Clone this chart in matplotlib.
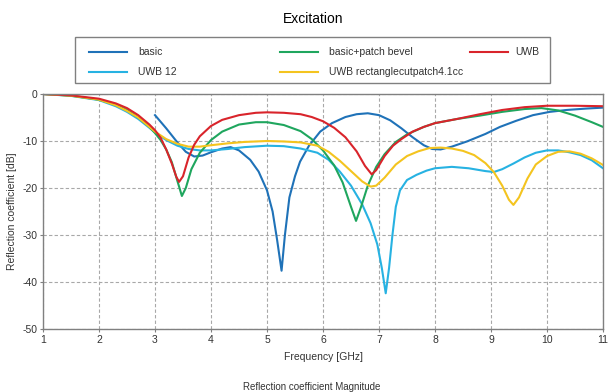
import matplotlib
matplotlib.use("Agg")
import matplotlib.pyplot as plt
from matplotlib.lines import Line2D
from matplotlib.patches import Rectangle

plt.rcParams['font.family'] = ['Liberation Sans', 'DejaVu Sans']
plt.rcParams['axes.unicode_minus'] = False

# --- data (frequency in GHz, reflection coefficient in dB) ---
basic_f = [3.0, 3.2, 3.4, 3.55, 3.7, 3.85, 4.0, 4.2, 4.35, 4.5, 4.7, 4.85, 5.0, 5.1,
           5.18, 5.26, 5.32, 5.4, 5.5, 5.59, 5.75, 5.95, 6.16, 6.4, 6.6, 6.8, 7.0,
           7.2, 7.4, 7.6, 7.8, 7.95, 8.1, 8.3, 8.57, 8.9, 9.16, 9.45, 9.75, 10.05,
           10.35, 10.7, 11.0]
basic_db = [-4.5, -7.3, -10.3, -12.3, -13.3, -13.1, -12.4, -11.6, -11.3, -12.0, -14.0,
            -16.5, -20.5, -25.0, -31.0, -37.6, -30.0, -22.0, -17.5, -14.4, -11.0, -8.0,
            -6.2, -4.9, -4.3, -4.1, -4.5, -5.6, -7.3, -9.2, -10.9, -11.7, -11.8, -11.2,
            -10.1, -8.5, -7.0, -5.7, -4.5, -3.8, -3.4, -3.1, -2.9]

uwb12_f = [1.0, 1.5, 2.0, 2.3, 2.5, 2.7, 2.9, 3.0, 3.2, 3.4, 3.6, 3.8, 4.0, 4.3, 4.6,
           5.0, 5.3, 5.6, 5.9, 6.1, 6.3, 6.5, 6.7, 6.85, 6.97, 7.05, 7.12, 7.18, 7.24,
           7.3, 7.375, 7.5, 7.67, 7.85, 8.0, 8.3, 8.6, 8.9, 9.05, 9.2, 9.4, 9.6, 9.8,
           10.0, 10.2, 10.4, 10.6, 10.8, 11.0]
uwb12_db = [0.0, -0.4, -1.3, -2.6, -3.8, -5.3, -7.2, -8.2, -9.8, -11.0, -11.7, -12.0,
            -12.0, -11.7, -11.3, -11.0, -11.1, -11.6, -12.5, -14.0, -16.5, -19.5,
            -23.5, -27.5, -32.0, -37.0, -42.4, -37.0, -30.0, -24.0, -20.5, -18.3,
            -17.2, -16.3, -15.8, -15.5, -15.8, -16.4, -16.6, -16.0, -14.8, -13.5,
            -12.5, -12.0, -12.0, -12.4, -13.0, -14.1, -15.8]

bevel_f = [1.0, 1.5, 2.0, 2.3, 2.5, 2.7, 2.9, 3.0, 3.1, 3.2, 3.3, 3.4, 3.48, 3.55,
           3.65, 3.8, 4.0, 4.2, 4.5, 4.8, 5.0, 5.3, 5.6, 5.8, 6.0, 6.2, 6.35, 6.5,
           6.59, 6.68, 6.8, 6.95, 7.1, 7.3, 7.5, 7.8, 8.0, 8.4, 8.8, 9.2, 9.6, 9.9,
           10.2, 10.5, 10.8, 11.0]
bevel_db = [0.0, -0.35, -1.2, -2.3, -3.4, -5.0, -7.0, -8.3, -9.8, -11.8, -14.5, -18.5,
            -21.7, -20.0, -16.0, -12.5, -9.8, -8.0, -6.5, -6.0, -6.0, -6.6, -7.9, -9.6,
            -12.0, -15.2, -18.8, -24.0, -27.0, -24.0, -19.5, -15.5, -12.8, -10.2, -8.6,
            -7.0, -6.2, -5.3, -4.6, -3.8, -3.2, -3.0, -3.5, -4.6, -6.0, -7.0]

rect_f = [1.0, 1.5, 2.0, 2.3, 2.5, 2.7, 2.9, 3.0, 3.2, 3.4, 3.6, 3.8, 4.0, 4.3, 4.6,
          5.0, 5.3, 5.6, 5.9, 6.1, 6.3, 6.5, 6.7, 6.85, 6.95, 7.1, 7.3, 7.5, 7.7, 7.9,
          8.1, 8.3, 8.5, 8.7, 8.9, 9.05, 9.2, 9.32, 9.4, 9.5, 9.65, 9.8, 10.0, 10.2,
          10.4, 10.6, 10.8, 11.0]
rect_db = [0.0, -0.35, -1.2, -2.4, -3.6, -5.0, -7.0, -8.0, -9.6, -10.6, -11.2, -11.2,
           -10.9, -10.5, -10.2, -10.0, -10.1, -10.3, -11.0, -12.3, -14.2, -16.4, -18.6,
           -19.7, -19.5, -17.8, -15.0, -13.2, -12.2, -11.5, -11.4, -11.6, -12.1, -13.0,
           -14.7, -16.6, -19.5, -22.5, -23.6, -22.0, -18.0, -15.0, -13.2, -12.3, -12.2,
           -12.7, -13.7, -15.1]

uwb_f = [1.0, 1.5, 2.0, 2.3, 2.5, 2.7, 2.9, 3.0, 3.1, 3.2, 3.3, 3.38, 3.43, 3.5, 3.6,
         3.7, 3.8, 4.0, 4.2, 4.5, 4.8, 5.0, 5.3, 5.6, 5.8, 6.0, 6.2, 6.4, 6.6, 6.75,
         6.87, 6.95, 7.1, 7.25, 7.4, 7.6, 7.8, 8.0, 8.4, 8.8, 9.2, 9.6, 10.0, 10.5, 11.0]
uwb_db = [0.0, -0.3, -1.0, -2.0, -3.0, -4.5, -6.5, -7.7, -9.3, -11.8, -14.8, -17.6,
          -18.7, -17.5, -13.5, -10.8, -9.0, -6.8, -5.5, -4.5, -4.0, -3.9, -4.0, -4.3,
          -4.9, -5.8, -7.2, -9.2, -12.2, -15.3, -17.1, -16.2, -13.2, -11.0, -9.6, -8.0,
          -7.0, -6.2, -5.3, -4.3, -3.4, -2.8, -2.5, -2.5, -2.6]

series = [
    ("basic", basic_f, basic_db, "#1f72b8"),
    ("UWB 12", uwb12_f, uwb12_db, "#27b2e2"),
    ("basic+patch bevel", bevel_f, bevel_db, "#1fa65e"),
    ("UWB rectanglecutpatch4.1cc", rect_f, rect_db, "#f4c41f"),
    ("UWB", uwb_f, uwb_db, "#d9242b"),
]

W, H = 608, 392
fig = plt.figure(figsize=(W / 100, H / 100), dpi=100)
ax = fig.add_axes([43 / W, 1 - 329 / H, 560 / W, 235 / H])

for name, f, db, c in series:
    ax.plot(f, db, color=c, lw=1.5, label=name)

ax.set_xlim(1, 11)
ax.set_ylim(-50, 0)
ax.set_xticks(range(1, 12))
ax.set_yticks(range(-50, 1, 10))
ax.grid(True, color="#a8a8a8", linestyle=(0, (3, 2)), lw=0.8)
for s in ax.spines.values():
    s.set_color("#808080")
    s.set_linewidth(1.0)
ax.tick_params(labelsize=7.5, length=2, color="#808080", pad=2, labelcolor="#333333")
ax.set_xlabel("Frequency [GHz]", fontsize=7.5, color="#333333", labelpad=5)
ax.set_ylabel("Reflection coefficient [dB]", fontsize=7.5, color="#333333", labelpad=4)

fig.text(313 / W, 1 - 19 / H, "Excitation", ha="center", va="center", fontsize=10)
fig.text(312 / W, 1 - 387 / H, "Reflection coefficient Magnitude",
         ha="center", va="center", fontsize=7, color="#333333")

# hand-built legend box (fixed grid like the original)
fig.patches.append(Rectangle((75 / W, 1 - 83 / H), 475 / W, 46 / H,
                             transform=fig.transFigure, fill=False,
                             edgecolor="#808080", lw=1.0))
slots = [(89, 52), (89, 72), (280, 52), (280, 72), (470, 52)]
for (name, f, db, c), (x0, y0) in zip(series, slots):
    fig.lines.append(Line2D([x0 / W, (x0 + 38) / W], [1 - y0 / H, 1 - y0 / H],
                            transform=fig.transFigure, color=c, lw=1.5))
    tx = x0 + 49 if x0 < 470 else x0 + 45
    fig.text(tx / W, 1 - y0 / H, name, ha="left", va="center",
             fontsize=7.5, color="#333333")

fig.savefig("out.png", dpi=100)
